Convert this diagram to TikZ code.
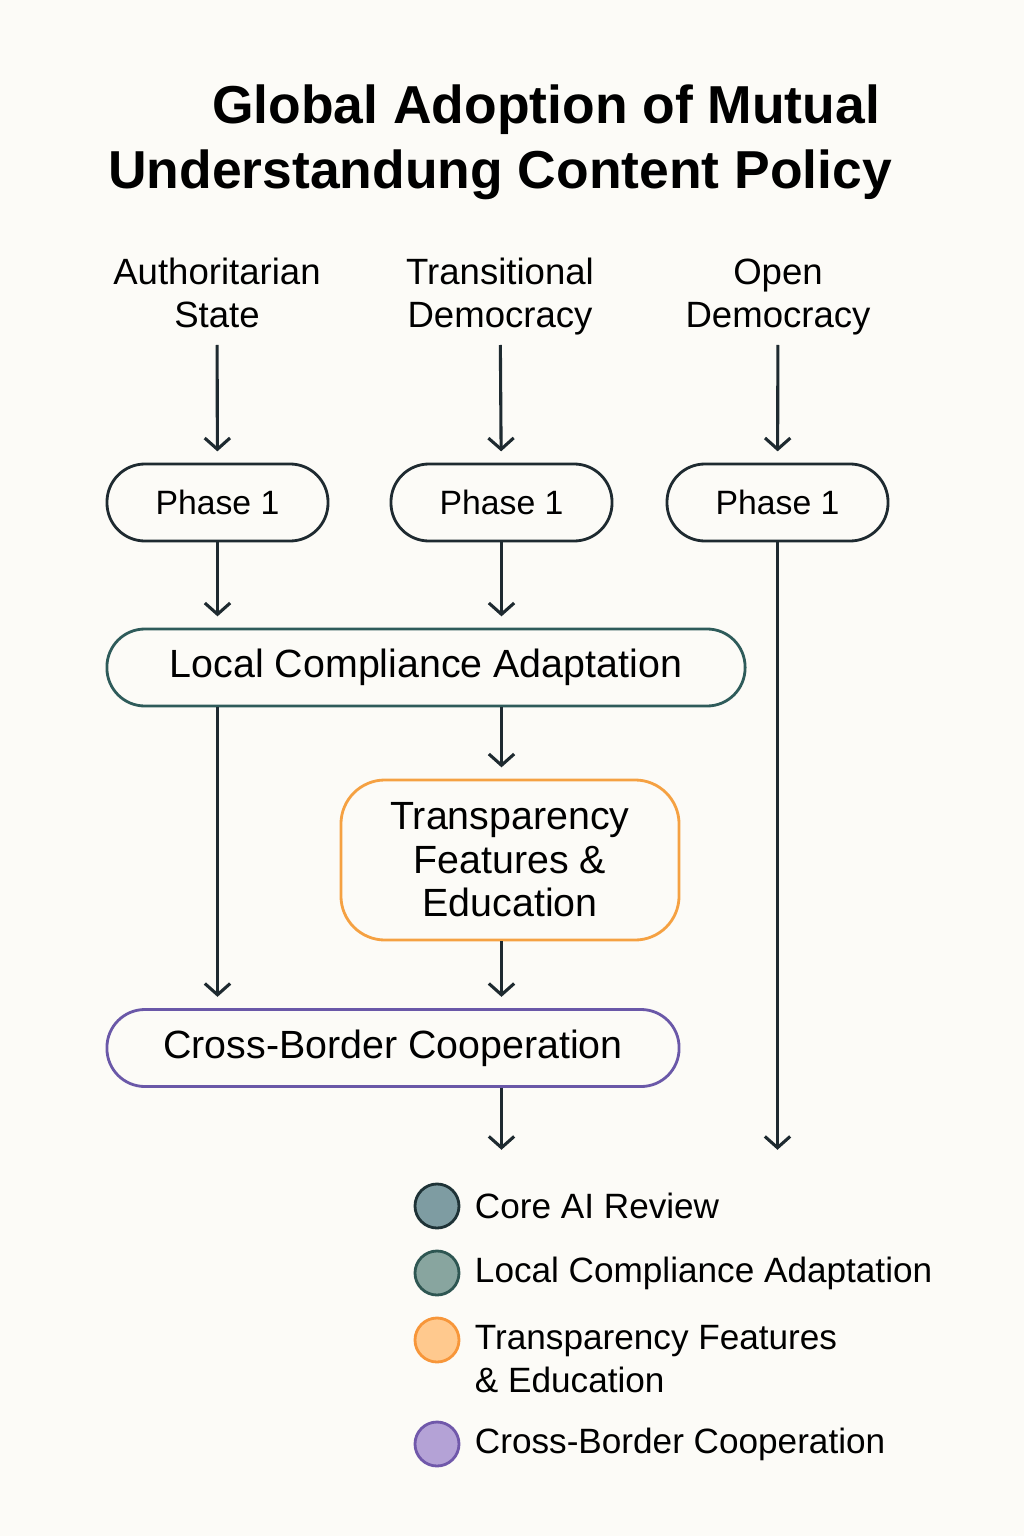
\documentclass[tikz,border=0pt]{standalone}
\usepackage{fontspec}
\setmainfont{Liberation Sans}
\usetikzlibrary{arrows.meta, positioning, shapes, calc}

\definecolor{paper}{HTML}{FCFBF7}
\definecolor{ink}{HTML}{1E2A30}
\definecolor{teal}{HTML}{2E5B5A}
\definecolor{amber}{HTML}{F5A142}
\definecolor{violet}{HTML}{6A58A8}
\definecolor{coreFill}{HTML}{7E9CA2}
\definecolor{coreLine}{HTML}{1E3236}
\definecolor{localFill}{HTML}{88A59F}
\definecolor{localLine}{HTML}{2E5652}
\definecolor{transFill}{HTML}{FFC98E}
\definecolor{transLine}{HTML}{F7963A}
\definecolor{crossFill}{HTML}{B4A2D6}
\definecolor{crossLine}{HTML}{7058AA}

\begin{document}
\begin{tikzpicture}[
        x=0.025cm, y=-0.025cm,
        pill/.style={rectangle, draw=ink, line width=2pt, rounded corners=0.95cm, minimum width=5.525cm, minimum height=1.925cm, font=\fontsize{24}{28}\selectfont},
        wide/.style={rectangle, line width=2pt, rounded corners=0.95cm, minimum height=1.925cm, align=center, font=\fontsize{28}{31}\selectfont},
        head/.style={align=center, font=\fontsize{26}{30.6}\selectfont},
        flow/.style={draw=ink, line width=2.2pt, -{Straight Barb[length=8pt,width=18pt]}, shorten >=8pt},
        dot/.style={circle, line width=2pt, minimum size=1.1cm, inner sep=0pt},
        key/.style={anchor=west, align=left, font=\fontsize{25}{30}\selectfont}
    ]
        \useasboundingbox[fill=paper] (0,0) rectangle (1024,1536);

        % title
        \node[font=\fontsize{38}{44}\selectfont\bfseries] (title1) at (546,110) {Global Adoption of Mutual};
        \node[font=\fontsize{38}{44}\selectfont\bfseries] (title2) at (500,175) {Understandung Content Policy};

        % columns
        \node[head] (colA) at (217,297) {Authoritarian\strut\\State\strut};
        \node[head] (colB) at (500,297) {Transitional\strut\\Democracy\strut};
        \node[head] (colC) at (778,297) {Open\strut\\Democracy\strut};

        \node[pill] (phA) at (217.5,502.5) {Phase 1};
        \node[pill] (phB) at (501.5,502.5) {Phase 1};
        \node[pill] (phC) at (777.5,502.5) {Phase 1};

        % stages
        \node[wide, draw=teal, minimum width=15.95cm] (lca) at (426,667.5) {Local Compliance Adaptation};
        \node[wide, draw=amber, minimum width=8.45cm, minimum height=4cm, rounded corners=1.1cm] (tfe) at (510,860) {Transparency\\Features \&\\Education};
        \node[wide, draw=violet, minimum width=14.3cm] (cbc) at (393,1048) {Cross-Border Cooperation};

        \coordinate (endB) at (501.5,1161);
        \coordinate (endC) at (777.5,1161);

        \draw[flow] (colA) -- (phA);
        \draw[flow] (colB) -- (phB);
        \draw[flow] (colC) -- (phC);
        \draw[flow] (phA) -- (lca.north -| phA);
        \draw[flow] (phB) -- (lca.north -| phB);
        \draw[flow] (lca.south -| phA) -- (cbc.north -| phA);
        \draw[flow] (lca.south -| phB) -- (tfe.north -| phB);
        \draw[flow] (tfe.south -| phB) -- (cbc.north -| phB);
        \draw[flow] (cbc.south -| phB) -- (endB);
        \draw[flow] (phC) -- (endC);

        % legend
        \node[dot, draw=coreLine, fill=coreFill] (kCore) at (437,1206) {};
        \node[dot, draw=localLine, fill=localFill] (kLocal) at (437,1273) {};
        \node[dot, draw=transLine, fill=transFill] (kTrans) at (437,1340) {};
        \node[dot, draw=crossLine, fill=crossFill] (kCross) at (437,1444) {};

        \node[key] (tCore) at (470,1206) {Core AI Review};
        \node[key] (tLocal) at (470,1273) {Local Compliance Adaptation};
        \node[key] (tTrans) at (470,1359) {Transparency Features\\\& Education};
        \node[key] (tCross) at (470,1444) {Cross-Border Cooperation};
    \end{tikzpicture}
\end{document}
